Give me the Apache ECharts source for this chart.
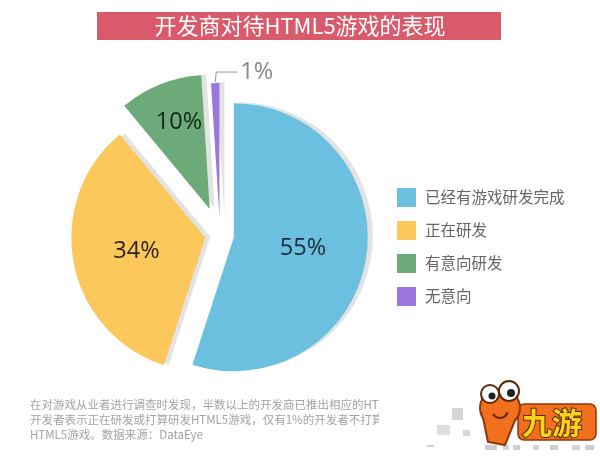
<!DOCTYPE html>
<html>
<head>
<meta charset="utf-8">
<script src="https://cdn.jsdelivr.net/npm/echarts@6/dist/echarts.min.js"></script>
<style>html,body{margin:0;padding:0;background:#fff}#c{width:600px;height:458px}</style>
</head>
<body>
<div id="c"></div>
<script>
const titleText = '开发商对待HTML5游戏的表现';
const categories = ['已经有游戏研发完成', '正在研发', '有意向研发', '无意向'];
const values = [55, 34, 10, 1];
const colors = ['#6bc0df', '#fcc85c', '#6cab79', '#9b76dd'];
const labelColors = ['#1b2a3c', '#2b2418', '#13261a', '#888888'];
const explode = [14, 15, 28, 18];
const noteLines = [
  '在对游戏从业者进行调查时发现，半数以上的开发商已推出相应的HTML5游戏',
  '开发者表示正在研发或打算研发HTML5游戏，仅有1%的开发者不打算开发',
  'HTML5游戏。数据来源：DataEye'
];

const chart = echarts.init(document.getElementById('c'), null, {renderer: 'canvas'});

const series = categories.map((name, i) => ({
  type: 'pie',
  center: [220, 235],
  radius: 134,
  startAngle: 90,
  clockwise: true,
  selectedMode: 'single',
  selectedOffset: explode[i],
  avoidLabelOverlap: false,
  animation: false,
  silent: true,
  emphasis: {disabled: true},
  z: 2,
  labelLayout: i === 3 ? function (p) {
    if (!p.labelLinePoints) return {};
    const a = p.labelLinePoints[0].slice();
    a[1] -= 1;
    const b = [a[0] + 1, a[1] - 10];
    const c = [b[0] + 21, b[1]];
    const r = p.labelRect;
    return {
      labelLinePoints: [a, b, c],
      dx: c[0] + 3 - r.x,
      dy: c[1] - (r.y + r.height / 2)
    };
  } : null,
  data: values.map((v, j) => j === i ? {
    name: name,
    value: v,
    selected: true,
    itemStyle: {color: colors[j], shadowColor: '#e3e3e3', shadowBlur: 0, shadowOffsetX: 5, shadowOffsetY: -1},
    label: {
      show: true,
      position: j === 3 ? 'outside' : 'inside',
      formatter: v + '%',
      fontFamily: 'Open Sans',
      fontSize: 23.5,
      color: labelColors[j],
      textBorderWidth: 0,
      offset: j === 2 ? [-5, -22] : [0, 0]
    },
    labelLine: {show: j === 3, length: 6, length2: 20, lineStyle: {color: '#9a9a9a', width: 1}}
  } : {
    name: '_f' + j,
    value: v,
    itemStyle: {color: 'transparent', shadowColor: 'transparent'},
    label: {show: false},
    labelLine: {show: false}
  })
}));

const logoParts = [
  {type: 'rect', shape: {x: 452, y: 408, width: 11, height: 12}, style: {fill: '#d6d6d6'}},
  {type: 'rect', shape: {x: 437, y: 425, width: 13, height: 10}, style: {fill: '#dedede'}},
  {type: 'rect', shape: {x: 463, y: 430, width: 7, height: 6}, style: {fill: '#d8d8d8'}},
  {type: 'rect', shape: {x: 427, y: 445, width: 7, height: 2}, style: {fill: '#cfcfcf'}},
  {type: 'rect', shape: {x: 485, y: 445, width: 12, height: 5}, style: {fill: '#cfcfcf'}},
  {type: 'rect', shape: {x: 503, y: 445, width: 6, height: 5}, style: {fill: '#d4d4d4'}},
  {type: 'rect', shape: {x: 513, y: 445, width: 7, height: 5}, style: {fill: '#cfcfcf'}},
  {type: 'rect', shape: {x: 533, y: 445, width: 6, height: 5}, style: {fill: '#d4d4d4'}},
  {type: 'rect', shape: {x: 550, y: 445, width: 8, height: 5}, style: {fill: '#cfcfcf'}},
  {type: 'rect', shape: {x: 572, y: 445, width: 8, height: 5}, style: {fill: '#d4d4d4'}},
  {type: 'rect', shape: {x: 585, y: 445, width: 9, height: 5}, style: {fill: '#cfcfcf'}},
  {type: 'rect', shape: {x: 518, y: 404, width: 78, height: 36, r: 6}, style: {fill: '#f26f1d', stroke: '#8a3a0a', lineWidth: 1.5}},
  {type: 'ellipse', shape: {cx: 500, cy: 408, rx: 20, ry: 19}, style: {fill: '#f26f1d', stroke: '#8a3a0a', lineWidth: 2}},
  {type: 'polygon', shape: {points: [[482, 413], [518, 413], [505, 445], [488, 442]]}, style: {fill: '#f26f1d', stroke: '#8a3a0a', lineWidth: 2}},
  {type: 'ellipse', shape: {cx: 500, cy: 412, rx: 18, ry: 12}, style: {fill: '#f26f1d'}},
  {type: 'circle', shape: {cx: 490, cy: 394, r: 9}, style: {fill: '#ffffff', stroke: '#5a2a0a', lineWidth: 2}},
  {type: 'circle', shape: {cx: 509, cy: 391, r: 10}, style: {fill: '#ffffff', stroke: '#5a2a0a', lineWidth: 2}},
  {type: 'circle', shape: {cx: 492, cy: 396, r: 3.5}, style: {fill: '#222'}},
  {type: 'circle', shape: {cx: 511, cy: 393, r: 4}, style: {fill: '#222'}},
  {type: 'arc', shape: {cx: 500, cy: 410, r: 8, startAngle: 0.3, endAngle: 2.6}, style: {stroke: '#5a2a0a', lineWidth: 2, fill: null}},
  {type: 'text', x: 522, y: 423, style: {text: '九游', fill: '#ffd21a', stroke: '#5a2a0a', lineWidth: 2, font: 'bold 30px "Noto Sans CJK SC"', textVerticalAlign: 'middle'}}
].map(e => Object.assign(e, {z: 20}));

chart.setOption({
  backgroundColor: '#ffffff',
  animation: false,
  legend: {
    data: categories,
    orient: 'vertical',
    left: 397,
    top: 188,
    padding: 0,
    itemWidth: 19,
    itemHeight: 19,
    itemGap: 14,
    icon: 'rect',
    selectedMode: false,
    textStyle: {fontFamily: 'Noto Sans CJK SC', fontSize: 15.5, color: '#666', padding: [0, 0, 0, 4]}
  },
  series: series,
  graphic: [
    {type: 'rect', shape: {x: 97, y: 12, width: 404, height: 28}, style: {fill: '#d95b6b'}, z: 10},
    {type: 'text', x: 300, y: 26, style: {text: titleText, fill: '#ffffff', font: '22px "Noto Sans CJK SC"', textAlign: 'center', textVerticalAlign: 'middle'}, z: 11},
    {type: 'text', x: 30, y: 397, style: {text: noteLines.join('\n'), fill: '#a3a3a3', font: '11.5px "Noto Sans CJK SC"', lineHeight: 15}, z: 10},
    {type: 'rect', shape: {x: 379, y: 392, width: 221, height: 66}, style: {fill: '#ffffff'}, z: 12}
  ].concat(logoParts)
});
</script>
</body>
</html>
